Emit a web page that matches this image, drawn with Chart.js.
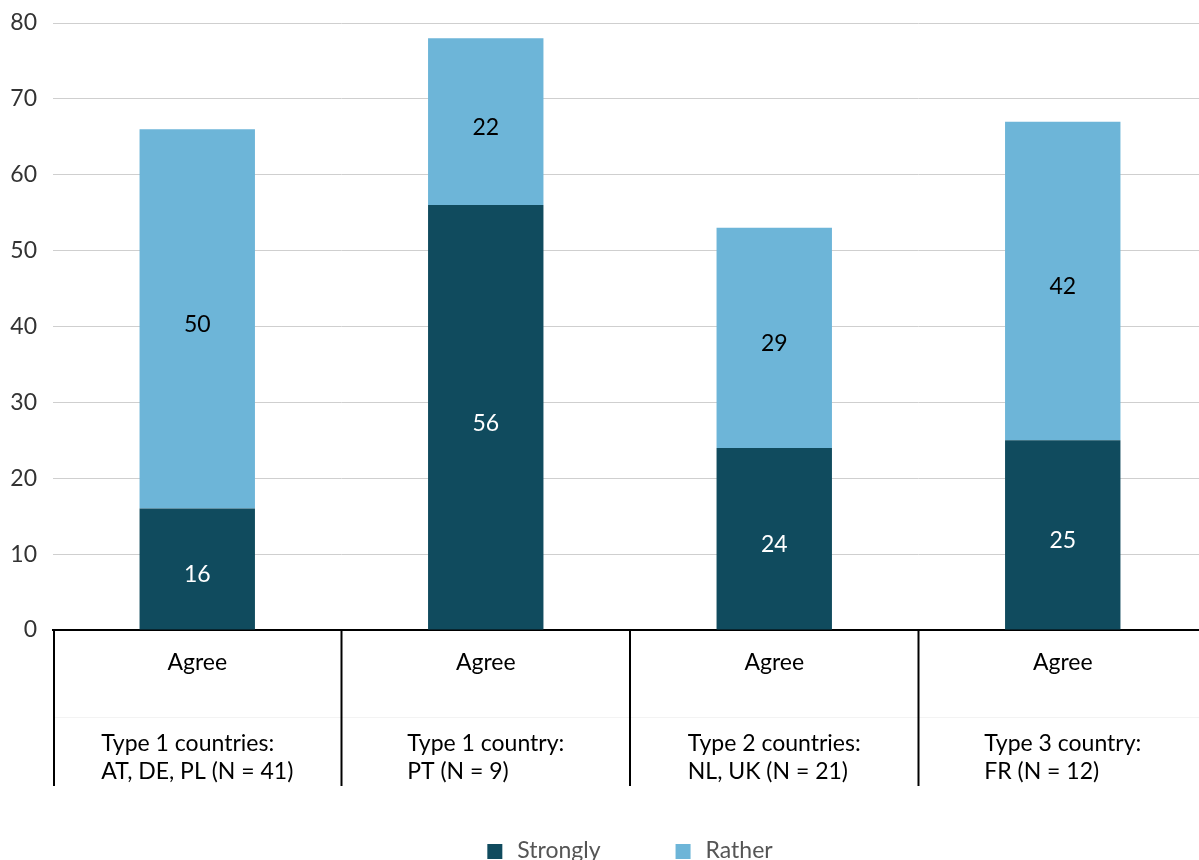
<!DOCTYPE html>
<html>
<head>
<meta charset="utf-8">
<script src="https://cdn.jsdelivr.net/npm/chart.js@4.4.1/dist/chart.umd.min.js"></script>
<style>
  html, body { margin: 0; padding: 0; background: #fff; overflow: hidden; }
  #wrap { width: 1207px; height: 860px; position: relative; }
</style>
</head>
<body>
<div id="wrap"><canvas id="myChart"></canvas></div>
<script>
// Daten
const categories = ['Agree', 'Agree', 'Agree', 'Agree'];
const groupLabels = [
    ['Type 1 countries:', 'AT, DE, PL (N = 41)'],
    ['Type 1 country:', 'PT (N = 9)'],
    ['Type 2 countries:', 'NL, UK (N = 21)'],
    ['Type 3 country:', 'FR (N = 12)']
];
const strongly = [16, 56, 24, 25];
const rather = [50, 22, 29, 42];
const seriesNames = ['Strongly', 'Rather'];
const seriesColors = ['#104b5e', '#6db5d8'];
const labelColors = ['#ffffff', '#000000'];

const FONT = 'Lato, "Open Sans", sans-serif';
const FS = 23;

// Kategorien unten, Trennlinien und Legende selbst zeichnen
const extrasPlugin = {
    id: 'extras',
    afterDraw(chart) {
        const ctx = chart.ctx;
        const x = chart.scales.x;
        const area = chart.chartArea;
        const n = categories.length;
        ctx.save();

        // feine Linie zwischen den Ebenen
        ctx.strokeStyle = '#f3f3f3';
        ctx.lineWidth = 1;
        ctx.beginPath();
        ctx.moveTo(area.left, area.bottom + 87.5);
        ctx.lineTo(area.right, area.bottom + 87.5);
        ctx.stroke();

        // Trennlinien
        ctx.strokeStyle = '#000';
        ctx.lineWidth = 2;
        for (let i = 0; i < n; i++) {
            let bx = i === 0 ? area.left + 1 : (x.getPixelForValue(i - 1) + x.getPixelForValue(i)) / 2;
            ctx.beginPath();
            ctx.moveTo(bx, area.bottom);
            ctx.lineTo(bx, area.bottom + 156);
            ctx.stroke();
        }

        ctx.fillStyle = '#000';
        ctx.font = FS + 'px ' + FONT;
        ctx.textBaseline = 'middle';
        for (let i = 0; i < n; i++) {
            const cx = x.getPixelForValue(i);
            ctx.textAlign = 'center';
            ctx.fillText(categories[i], cx, area.bottom + 33);
            const lines = groupLabels[i];
            const w = Math.max(...lines.map(l => ctx.measureText(l).width));
            ctx.textAlign = 'left';
            lines.forEach((l, j) => {
                ctx.fillText(l, cx - w / 2, area.bottom + 114 + j * 28);
            });
        }

        // Legende
        const box = 15, gap = 15, spacing = 75;
        const widths = seriesNames.map(s => box + gap + ctx.measureText(s).width);
        const total = widths.reduce((a, b) => a + b, 0) + spacing * (seriesNames.length - 1);
        let lx = (area.left + area.right) / 2 - total / 2;
        const ly = 851;
        seriesNames.forEach((s, i) => {
            ctx.fillStyle = seriesColors[i];
            ctx.fillRect(lx, ly - 7, box, box);
            ctx.fillStyle = '#555';
            ctx.textAlign = 'left';
            ctx.fillText(s, lx + box + gap, ly);
            lx += widths[i] + spacing;
        });
        ctx.restore();
    }
};

// Werte in die Balken schreiben
const valuePlugin = {
    id: 'values',
    afterDatasetsDraw(chart) {
        const ctx = chart.ctx;
        ctx.save();
        ctx.font = FS + 'px ' + FONT;
        ctx.textAlign = 'center';
        ctx.textBaseline = 'middle';
        chart.data.datasets.forEach((ds, di) => {
            const meta = chart.getDatasetMeta(di);
            meta.data.forEach((bar, i) => {
                const p = bar.getProps(['x', 'y', 'base'], true);
                ctx.fillStyle = labelColors[di];
                ctx.fillText(ds.data[i], p.x, (p.y + p.base) / 2 + 6);
            });
        });
        ctx.restore();
    }
};

const ctx = document.getElementById('myChart').getContext('2d');
new Chart(ctx, {
    type: 'bar',
    data: {
        labels: categories,
        datasets: [
            { label: seriesNames[0], data: strongly, backgroundColor: seriesColors[0] },
            { label: seriesNames[1], data: rather, backgroundColor: seriesColors[1] }
        ]
    },
    options: {
        responsive: true,
        maintainAspectRatio: false,
        animation: false,
        layout: { padding: { top: 23, right: 0, left: 0, bottom: 0 } },
        datasets: {
            bar: { barPercentage: 0.4, categoryPercentage: 1 }
        },
        plugins: {
            legend: { display: false },
            tooltip: { enabled: false }
        },
        scales: {
            x: {
                stacked: true,
                grid: { display: false },
                border: { color: '#000', width: 2 },
                ticks: { display: false },
                afterFit(scale) { scale.height = 230; }
            },
            y: {
                stacked: true,
                min: 0,
                max: 80,
                ticks: {
                    stepSize: 10,
                    padding: 16,
                    color: '#333',
                    font: { family: FONT, size: FS }
                },
                grid: { color: '#cfcfcf', drawTicks: false },
                border: { display: false },
                afterFit(scale) {
                    scale.width = 53;
                    scale.paddingTop = 0;
                    scale.paddingBottom = 0;
                }
            }
        }
    },
    plugins: [valuePlugin, extrasPlugin]
});
</script>
</body>
</html>
